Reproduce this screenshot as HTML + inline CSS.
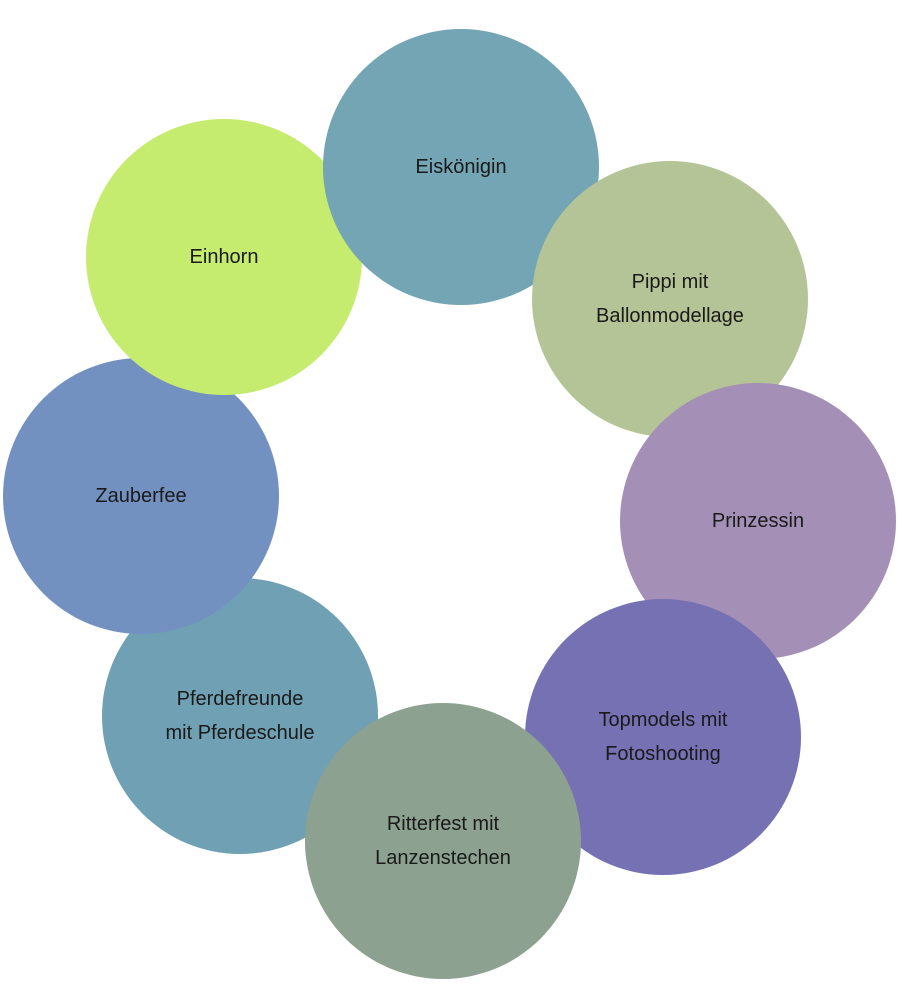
<!DOCTYPE html>
<html><head><meta charset="utf-8"><style>
body{margin:0;width:920px;height:1000px;background:#fff;position:relative;overflow:hidden;font-family:"Liberation Sans",sans-serif;}
.c{position:absolute;width:276px;height:276px;border-radius:50%;display:flex;align-items:center;justify-content:center;text-align:center;font-size:20px;line-height:34px;color:#1a1a1a;}
</style></head><body>
<div class="c" style="left:102px;top:578px;background:#70a0b3;">Pferdefreunde<br>mit Pferdeschule</div>
<div class="c" style="left:3px;top:358px;background:#7291c0;">Zauberfee</div>
<div class="c" style="left:86px;top:119px;background:#c5eb6f;">Einhorn</div>
<div class="c" style="left:323px;top:29px;background:#74a5b5;">Eiskönigin</div>
<div class="c" style="left:532px;top:161px;background:#b5c496;">Pippi mit<br>Ballonmodellage</div>
<div class="c" style="left:620px;top:383px;background:#a490b6;">Prinzessin</div>
<div class="c" style="left:525px;top:599px;background:#7571b3;">Topmodels mit<br>Fotoshooting</div>
<div class="c" style="left:305px;top:703px;background:#8ca18f;">Ritterfest mit<br>Lanzenstechen</div>
</body></html>
